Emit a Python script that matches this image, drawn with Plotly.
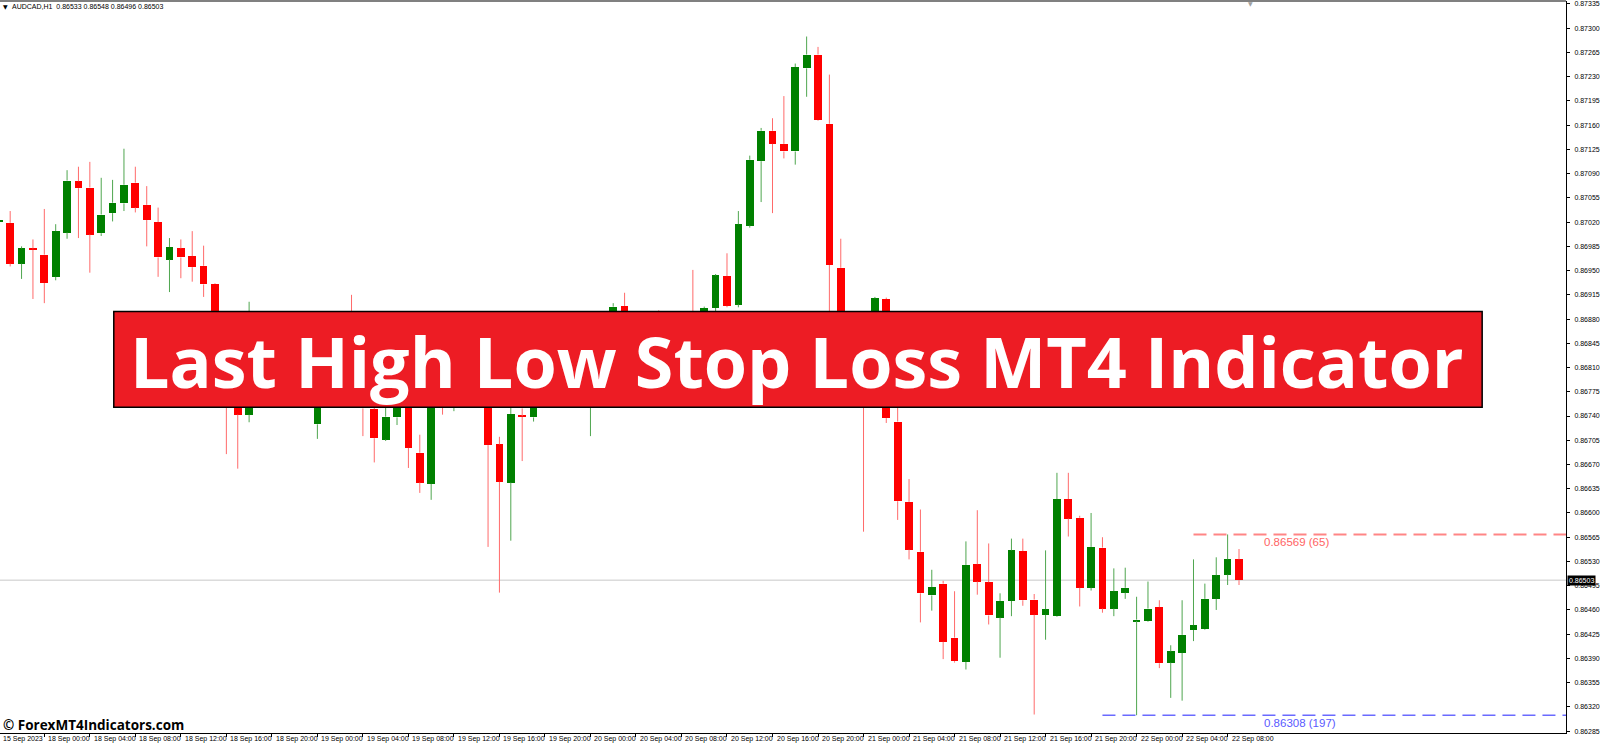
import plotly.graph_objects as go

SYMBOL = "AUDCAD,H1"

# H1 bars, oldest first (15 Sep 2023 20:00 ... 22 Sep 2023 09:00)
opens = [
    0.87021, 0.87019, 0.86960, 0.86982, 0.86973, 0.86941, 0.87005, 0.87079, 0.87070, 0.87004,
    0.87033, 0.87047, 0.87077, 0.87045, 0.87020, 0.86966, 0.86982, 0.86971, 0.86957, 0.86931,
    0.86856, 0.86770, 0.86742, 0.86863, 0.86830, 0.86852, 0.86805, 0.86785, 0.86728, 0.86810,
    0.86790, 0.86822, 0.86790, 0.86750, 0.86706, 0.86738, 0.86790, 0.86687, 0.86642, 0.86785,
    0.86770, 0.86800, 0.86825, 0.86785, 0.86699, 0.86644, 0.86740, 0.86738, 0.86800, 0.86815,
    0.86795, 0.86822, 0.86810, 0.86850, 0.86870, 0.86899, 0.86860, 0.86872, 0.86892, 0.86860,
    0.86845, 0.86870, 0.86845, 0.86896, 0.86942, 0.86901, 0.87015, 0.87108, 0.87152, 0.87133,
    0.87122, 0.87242, 0.87262, 0.87162, 0.86954, 0.86800, 0.86835, 0.86800, 0.86909, 0.86732,
    0.86616, 0.86544, 0.86481, 0.86498, 0.86420, 0.86385, 0.86526, 0.86500, 0.86449, 0.86473,
    0.86545, 0.86475, 0.86453, 0.86451, 0.86620, 0.86593, 0.86492, 0.86550, 0.86462, 0.86485,
    0.86444, 0.86444, 0.86464, 0.86384, 0.86398, 0.86431, 0.86432, 0.86476, 0.86511, 0.86533,
]
highs = [
    0.87025, 0.87036, 0.86985, 0.86995, 0.87039, 0.87017, 0.87095, 0.87100, 0.87107, 0.87084,
    0.87081, 0.87126, 0.87100, 0.87072, 0.87041, 0.86997, 0.86995, 0.87007, 0.86986, 0.86932,
    0.86871, 0.86780, 0.86905, 0.86885, 0.86868, 0.86870, 0.86830, 0.86820, 0.86835, 0.86850,
    0.86830, 0.86915, 0.86815, 0.86755, 0.86760, 0.86805, 0.86810, 0.86713, 0.86800, 0.86805,
    0.86820, 0.86835, 0.86840, 0.86800, 0.86710, 0.86760, 0.86751, 0.86815, 0.86830, 0.86845,
    0.86830, 0.86850, 0.86870, 0.86880, 0.86903, 0.86918, 0.86885, 0.86885, 0.86893, 0.86880,
    0.86870, 0.86951, 0.86898, 0.86945, 0.86975, 0.87036, 0.87116, 0.87156, 0.87170, 0.87202,
    0.87249, 0.87288, 0.87273, 0.87233, 0.86996, 0.86850, 0.86850, 0.86912, 0.86911, 0.86755,
    0.86649, 0.86605, 0.86518, 0.86502, 0.86487, 0.86559, 0.86604, 0.86556, 0.86484, 0.86563,
    0.86563, 0.86483, 0.86546, 0.86658, 0.86658, 0.86596, 0.86600, 0.86565, 0.86520, 0.86521,
    0.86479, 0.86501, 0.86474, 0.86409, 0.86474, 0.86533, 0.86498, 0.86536, 0.86569, 0.86548,
]
lows = [
    0.87018, 0.86956, 0.86938, 0.86909, 0.86903, 0.86936, 0.86996, 0.86997, 0.86947, 0.87000,
    0.87021, 0.87036, 0.87034, 0.86985, 0.86941, 0.86919, 0.86939, 0.86934, 0.86912, 0.86850,
    0.86685, 0.86664, 0.86731, 0.86815, 0.86800, 0.86790, 0.86772, 0.86765, 0.86707, 0.86780,
    0.86770, 0.86765, 0.86711, 0.86673, 0.86704, 0.86727, 0.86665, 0.86629, 0.86619, 0.86742,
    0.86747, 0.86775, 0.86770, 0.86551, 0.86485, 0.86560, 0.86675, 0.86732, 0.86770, 0.86785,
    0.86775, 0.86800, 0.86711, 0.86820, 0.86845, 0.86835, 0.86830, 0.86840, 0.86835, 0.86825,
    0.86820, 0.86820, 0.86830, 0.86891, 0.86897, 0.86897, 0.87012, 0.87049, 0.87033, 0.87112,
    0.87103, 0.87201, 0.87166, 0.86800, 0.86780, 0.86770, 0.86573, 0.86780, 0.86730, 0.86590,
    0.86533, 0.86442, 0.86459, 0.86389, 0.86384, 0.86374, 0.86482, 0.86439, 0.86391, 0.86451,
    0.86466, 0.86309, 0.86417, 0.86450, 0.86566, 0.86465, 0.86488, 0.86456, 0.86451, 0.86476,
    0.86308, 0.86443, 0.86376, 0.86333, 0.86329, 0.86415, 0.86431, 0.86460, 0.86496, 0.86496,
]
closes = [
    0.87022, 0.86960, 0.86982, 0.86980, 0.86932, 0.87007, 0.87080, 0.87069, 0.87002, 0.87031,
    0.87048, 0.87074, 0.87041, 0.87023, 0.86969, 0.86984, 0.86969, 0.86955, 0.86930, 0.86856,
    0.86770, 0.86742, 0.86863, 0.86830, 0.86852, 0.86805, 0.86785, 0.86775, 0.86810, 0.86790,
    0.86822, 0.86790, 0.86751, 0.86708, 0.86739, 0.86790, 0.86694, 0.86644, 0.86785, 0.86770,
    0.86800, 0.86825, 0.86785, 0.86698, 0.86645, 0.86743, 0.86739, 0.86800, 0.86815, 0.86795,
    0.86822, 0.86810, 0.86850, 0.86870, 0.86898, 0.86860, 0.86872, 0.86850, 0.86860, 0.86845,
    0.86862, 0.86845, 0.86896, 0.86943, 0.86899, 0.87017, 0.87110, 0.87152, 0.87133, 0.87122,
    0.87244, 0.87262, 0.87167, 0.86958, 0.86800, 0.86835, 0.86790, 0.86910, 0.86737, 0.86617,
    0.86547, 0.86484, 0.86493, 0.86414, 0.86386, 0.86525, 0.86501, 0.86452, 0.86473, 0.86546,
    0.86474, 0.86453, 0.86461, 0.86620, 0.86592, 0.86492, 0.86551, 0.86462, 0.86487, 0.86492,
    0.86446, 0.86462, 0.86383, 0.86400, 0.86424, 0.86438, 0.86476, 0.86510, 0.86533, 0.86503,
]

first_date = "15 Sep 2023"
time_labels = [
    "18 Sep 00:00", "18 Sep 04:00", "18 Sep 08:00", "18 Sep 12:00", "18 Sep 16:00", "18 Sep 20:00",
    "19 Sep 00:00", "19 Sep 04:00", "19 Sep 08:00", "19 Sep 12:00", "19 Sep 16:00", "19 Sep 20:00",
    "20 Sep 00:00", "20 Sep 04:00", "20 Sep 08:00", "20 Sep 12:00", "20 Sep 16:00", "20 Sep 20:00",
    "21 Sep 00:00", "21 Sep 04:00", "21 Sep 08:00", "21 Sep 12:00", "21 Sep 16:00", "21 Sep 20:00",
    "22 Sep 00:00", "22 Sep 04:00", "22 Sep 08:00",
]
first_label_bar = 4   # 18 Sep 00:00 is the 5th bar shown
label_step = 4        # one label every 4 hours

# indicator levels: price, distance in points, bar where the line starts
sl_high, sl_high_pts, sl_high_from = 0.86569, 65, 105
sl_low, sl_low_pts, sl_low_from = 0.86308, 197, 97

price_ticks = [round(0.86285 + k * 0.00035, 5) for k in range(31)]

banner_text = "Last High Low Stop Loss MT4 Indicator"
watermark = "© ForexMT4Indicators.com"

# ---- window geometry (pixels) ----
W, H = 1600, 743
PW, PH = 1569, 733
x_view = [0.105, 137.74]
y_view = [0.862823, 0.873393]


def px(x):
    return x / PW


def py(y):
    return 1 - y / PH


AXIS_FONT = dict(family="Liberation Sans, Arial, sans-serif", size=7, color="black")

fig = go.Figure()

idx = list(range(len(closes)))
is_up = [c >= o for o, c in zip(opens, closes)]
MIN_BODY = 0.000015

for up, body_col, wick_col in [(True, "#008000", "#4FA64F"), (False, "#FF0000", "#FF6A6A")]:
    sel = [i for i in idx if is_up[i] == up]
    wx, wy = [], []
    for i in sel:
        top = max(opens[i], closes[i])
        bot = min(opens[i], closes[i])
        wx += [i, i, None, i, i, None]
        wy += [highs[i], top, None, bot, lows[i], None]
    fig.add_trace(go.Scatter(x=wx, y=wy, mode="lines", line=dict(color=wick_col, width=1),
                             hoverinfo="skip", showlegend=False))
    fig.add_trace(go.Bar(
        x=sel,
        base=[min(opens[i], closes[i]) for i in sel],
        y=[max(abs(closes[i] - opens[i]), MIN_BODY) for i in sel],
        width=0.68,
        marker=dict(color=body_col, line=dict(width=0)),
        showlegend=False,
    ))

# stop loss levels
fig.add_trace(go.Scatter(x=[sl_high_from, x_view[1]], y=[sl_high, sl_high], mode="lines",
                         line=dict(color="#FF8585", width=2, dash="13px,7px"), showlegend=False))
fig.add_trace(go.Scatter(x=[sl_low_from, x_view[1]], y=[sl_low, sl_low], mode="lines",
                         line=dict(color="#6A6AFF", width=1.6, dash="13px,7px"), showlegend=False))

# bid line
fig.add_shape(type="line", xref="paper", yref="y", x0=0, x1=1, y0=closes[-1], y1=closes[-1],
              line=dict(color="#C8C8C8", width=1), layer="below")
# top border
fig.add_shape(type="line", xref="paper", yref="paper", x0=0, x1=1, y0=1, y1=1,
              line=dict(color="#808080", width=2))

# banner
fig.add_shape(type="rect", xref="paper", yref="paper",
              x0=px(114), x1=px(1485), y0=py(406.7), y1=py(311),
              fillcolor="#ED1C24", line=dict(color="black", width=1.5))

ann = []
ann.append(dict(text=banner_text, xref="paper", yref="paper", x=px(128), y=py(360),
                xanchor="left", yanchor="middle", showarrow=False,
                font=dict(family="Open Sans", size=70, color="white", weight="bold")))

# header
ann.append(dict(text="▼", xref="paper", yref="paper", x=px(1), y=py(6), xanchor="left",
                yanchor="middle", showarrow=False, font=dict(family="DejaVu Sans", size=6, color="black")))
ann.append(dict(text=f"{SYMBOL}  {opens[-1]:.5f} {highs[-1]:.5f} {lows[-1]:.5f} {closes[-1]:.5f}",
                xref="paper", yref="paper", x=px(10), y=py(6), xanchor="left", yanchor="middle",
                showarrow=False, font=AXIS_FONT))
ann.append(dict(text="▼", xref="paper", yref="paper", x=px(1253), y=py(3), xanchor="center",
                yanchor="middle", showarrow=False, font=dict(family="DejaVu Sans", size=6, color="#A0A0A0")))

# level labels
last = len(closes) + 1
ann.append(dict(text=f"{sl_high:.5f} ({sl_high_pts})", xref="x", yref="y", x=last, y=sl_high,
                xanchor="left", yanchor="top", showarrow=False,
                font=dict(family="Liberation Sans", size=11.5, color="#FF6464")))
ann.append(dict(text=f"{sl_low:.5f} ({sl_low_pts})", xref="x", yref="y", x=last, y=sl_low,
                xanchor="left", yanchor="top", showarrow=False,
                font=dict(family="Liberation Sans", size=11.5, color="#5A5AFF")))

# current price box on the axis
ann.append(dict(text=f"{closes[-1]:.5f}", xref="paper", yref="y", x=px(PW + 1), y=closes[-1],
                xanchor="left", yanchor="middle", showarrow=False, bgcolor="black", borderpad=1,
                font=dict(family="Liberation Sans", size=7, color="white")))

# time labels
ann.append(dict(text=first_date, xref="paper", yref="paper", x=px(1), y=py(739),
                xanchor="left", yanchor="middle", showarrow=False, font=AXIS_FONT))
tick_bars = [first_label_bar + k * label_step for k in range(len(time_labels))]
for b, lab in zip(tick_bars, time_labels):
    ann.append(dict(text=lab, xref="x", yref="paper", x=b, y=py(739), xshift=2,
                    xanchor="left", yanchor="middle", showarrow=False, font=AXIS_FONT))

# watermark
ann.append(dict(text=watermark, xref="paper", yref="paper", x=px(1), y=py(725),
                xanchor="left", yanchor="middle", showarrow=False,
                font=dict(family="Open Sans", size=13.5, color="black", weight="bold")))

fig.update_layout(
    width=W, height=H,
    margin=dict(l=0, r=W - PW, t=0, b=H - PH),
    paper_bgcolor="white", plot_bgcolor="white",
    barmode="overlay", bargap=0, showlegend=False,
    annotations=ann,
    xaxis=dict(range=x_view, showgrid=False, zeroline=False, showline=True, linecolor="black",
               linewidth=1, ticks="outside", ticklen=3, tickcolor="black",
               tickvals=tick_bars, showticklabels=False),
    yaxis=dict(range=y_view, side="right", showgrid=False, zeroline=False, showline=True,
               linecolor="black", linewidth=1, ticks="outside", ticklen=3, tickcolor="black",
               tickvals=price_ticks, ticktext=[f"{v:.5f}" for v in price_ticks],
               tickfont=AXIS_FONT, ticklabelstandoff=3, ticklabeloverflow="allow"),
)

fig.write_html("out.html", config={"displayModeBar": False},
               post_script="document.body.style.margin='0';document.body.style.overflow='hidden';")
